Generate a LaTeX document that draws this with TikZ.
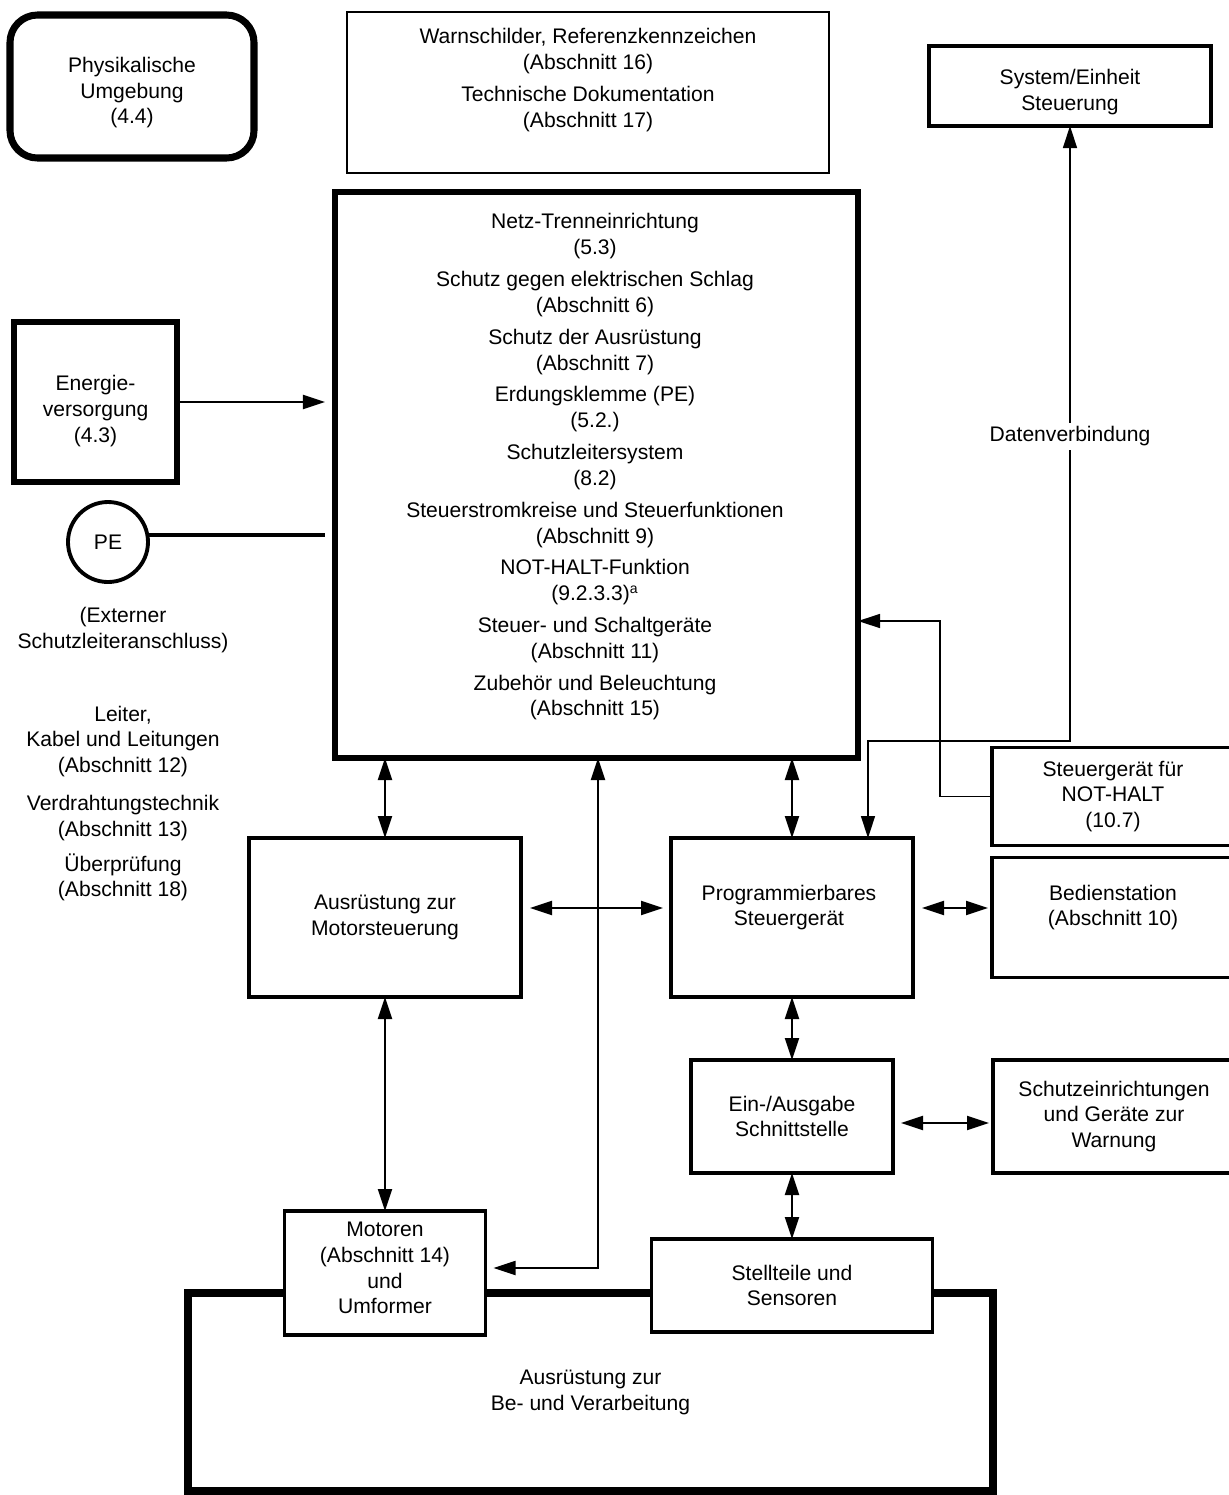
\documentclass[tikz,border=0pt]{standalone}
\usepackage{fontspec}
\setmainfont{Liberation Sans}
\usetikzlibrary{positioning, arrows.meta, backgrounds}

\begin{document}
\begin{tikzpicture}[
  x=0.2mm, y=-0.2mm,
  font=\fontsize{12}{14.7}\selectfont,
  >={Triangle[length=4.4mm, width=2.8mm]},
  box/.style={rectangle, draw, line width=2.2pt, fill=white, align=center, inner sep=0pt, outer sep=0pt},
  dickbox/.style={box, line width=2.9pt},
  duennbox/.style={box, line width=1.1pt},
  txt/.style={align=center, inner sep=0pt},
  arrow/.style={line width=1.1pt},
  signal/.style={line width=0.8pt}
]
\useasboundingbox (0,0) rectangle (1229,1495);
\clip (0,0) rectangle (1229,1495);

% Umgebung, Kennzeichnung, uebergeordnete Steuerung
\node[box, line width=4pt, rounded corners=5.5mm, minimum width=48.8mm, minimum height=28.6mm, text height=45.1pt] (phys) at (132,86.5) {Physikalische\\Umgebung\\(4.4)};
\node[duennbox, minimum width=96.4mm, minimum height=32.2mm] (warn) at (588,92.5) {};
\node[txt] (warntext) at (588,80) {Warnschilder, Referenzkennzeichen\\(Abschnitt 16)\\[3.4pt]Technische Dokumentation\\(Abschnitt 17)};
\node[box, minimum width=56.4mm, minimum height=16mm, text height=30.4pt] (sys) at (1070,86) {System/Einheit\\Steuerung};

% Elektrische Ausruestung
\node[dickbox, minimum width=104.6mm, minimum height=113.2mm] (main) at (596.5,475) {};
\node[txt] (maintext) at (595,467) {Netz-Trenneinrichtung\\(5.3)\\[3.4pt]
  Schutz gegen elektrischen Schlag\\(Abschnitt 6)\\[3.4pt]
  Schutz der Ausrüstung\\(Abschnitt 7)\\[3.4pt]
  Erdungsklemme (PE)\\(5.2.)\\[3.4pt]
  Schutzleitersystem\\(8.2)\\[3.4pt]
  Steuerstromkreise und Steuerfunktionen\\(Abschnitt 9)\\[3.4pt]
  NOT-HALT-Funktion\\(9.2.3.3)\textsuperscript{a}\\[3.4pt]
  Steuer- und Schaltgeräte\\(Abschnitt 11)\\[3.4pt]
  Zubehör und Beleuchtung\\(Abschnitt 15)};

% Einspeisung und Schutzleiter
\node[dickbox, minimum width=32.6mm, minimum height=32mm, text height=48.5pt] (energie) at (95.5,402) {Energie-\\versorgung\\(4.3)};
\node[box, circle, minimum size=16mm] (pe) at (108,542) {PE};
\node[txt] (petext) at (123,630) {(Externer\\Schutzleiteranschluss)};
\node[txt] (leiter) at (123,803.5) {Leiter,\\Kabel und Leitungen\\(Abschnitt 12)\\[6.8pt]Verdrahtungstechnik\\(Abschnitt 13)\\[5pt]Überprüfung\\(Abschnitt 18)};

% Steuerung und Antriebe
\node[box, minimum width=54.4mm, minimum height=31.8mm] (motor) at (385,917.5) {Ausrüstung zur\\Motorsteuerung};
\node[box, minimum width=48.4mm, minimum height=31.8mm] (prog) at (792,917.5) {};
\node[txt] (progtext) at (789,907.5) {Programmierbares\\Steuergerät};
\node[box, minimum width=48.4mm, minimum height=24mm, right=15.8mm of prog] (bedien) {};
\node[txt] (bedientext) at (1113,907.5) {Bedienstation\\(Abschnitt 10)};
\node[box, minimum width=48.4mm, minimum height=19.6mm, above=2.4mm of bedien] (nothalt) {Steuergerät für\\NOT-HALT\\(10.7)};
\node[box, minimum width=40.4mm, minimum height=22.6mm, below=12.6mm of prog] (ea) {Ein-/Ausgabe\\Schnittstelle};
\node[box, minimum width=48.4mm, minimum height=22.6mm, right=20mm of ea] (schutz) {Schutzeinrichtungen\\und Geräte zur\\Warnung};
\node[box, minimum width=56.2mm, minimum height=18.6mm, below=13.2mm of ea] (stell) {Stellteile und\\Sensoren};
\node[box, minimum width=40.2mm, minimum height=24.8mm, below=42.8mm of motor, text depth=5.8pt] (motoren) {Motoren\\(Abschnitt 14)\\und\\Umformer};

% Maschine (hinter Motoren und Sensoren)
\begin{pgfonlayer}{background}
  \node[box, line width=4.5pt, minimum width=161mm, minimum height=39.6mm] (verarb) at (590.5,1392) {Ausrüstung zur\\Be- und Verarbeitung};
\end{pgfonlayer}

% Verbindungen
\coordinate (verteil) at (598,908);
\coordinate (dvende) at ([xshift=-9mm]prog.north east);
\draw[arrow, ->] (energie.east) -- ([xshift=-2mm]main.west |- energie.east);
\draw[line width=2.2pt] (pe.east |- 0,535) -- ([xshift=-2mm]main.west |- 0,535);
\draw[arrow, <->] (main.south -| motor.north) -- (motor.north);
\draw[arrow, <->] (main.south -| prog.north) -- (prog.north);
\draw[arrow, <->] (main.south -| verteil) |- ([yshift=1mm, xshift=1.6mm]motoren.east);
\draw[arrow, <->, shorten <=1.8mm, shorten >=1.6mm] (motor.east |- verteil) -- (prog.west |- verteil);
\draw[arrow, <->] (motor.south) -- (motoren.north);
\draw[arrow, <->, shorten <=1.8mm, shorten >=0.8mm] ([yshift=1.9mm]prog.east) -- ([yshift=1.9mm]prog.east -| bedien.west);
\draw[arrow, <->] (prog.south) -- (ea.north);
\draw[arrow, <->, shorten <=1.6mm, shorten >=0.8mm] ([yshift=-1.3mm]ea.east) -- ([yshift=-1.3mm]ea.east -| schutz.west);
\draw[arrow, <->] (ea.south) -- (stell.north);
\draw[signal, <->] (sys.south) -- node[fill=white, inner sep=2pt, yshift=-0.6mm] (dvtext) {Datenverbindung} ++(0,615) -| (dvende);
\draw[signal, ->] (nothalt.west) -- ++(-52,0) |- ([yshift=-29.2mm]main.east);

\end{tikzpicture}
\end{document}
